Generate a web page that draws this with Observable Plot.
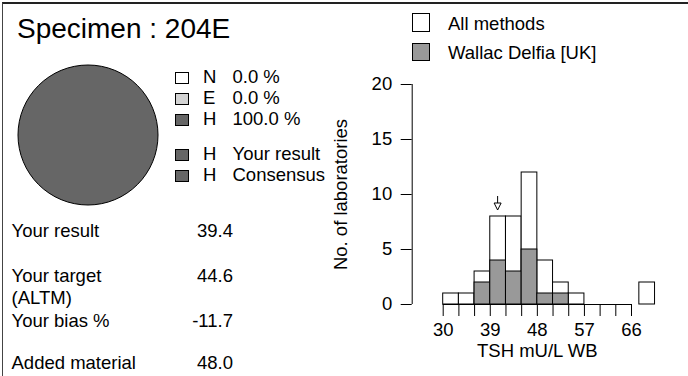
<!DOCTYPE html>
<html><head><meta charset="utf-8">
<script src="https://cdn.jsdelivr.net/npm/d3@7"></script>
<script src="https://cdn.jsdelivr.net/npm/@observablehq/plot@0.6"></script>
<style>
html,body{margin:0;padding:0;background:#fff;}
#root{position:relative;width:688px;height:376px;overflow:hidden;font-family:"Liberation Sans",Arial,Helvetica,sans-serif;color:#000;background:#fff;}
.t{position:absolute;white-space:nowrap;line-height:1;}
.sw{position:absolute;box-sizing:border-box;border:1px solid #000;}
.plotbox{position:absolute;}
</style></head><body><div id="root"></div>
<script>
// ---- data ----
const specimen = "204E";
const pieCategories = ["N", "E", "H"];
const piePercents = [0.0, 0.0, 100.0];
const pieColors = ["#ffffff", "#d3d3d3", "#666666"];
const yourResultClass = "H";
const consensusClass = "H";
const statLabels = [["Your result"], ["Your target", "(ALTM)"], ["Your bias %"], ["Added material"]];
const statValues = ["39.4", "44.6", "-11.7", "48.0"];
const binStarts = [30, 33, 36, 39, 42, 45, 48, 51, 54, 57, 60, 63];
const binWidth = 3;
const allMethodsCounts = [1, 1, 3, 8, 8, 12, 4, 2, 1, 0, 0, 0];
const methodCounts = [0, 0, 2, 4, 3, 5, 1, 1, 0, 0, 0, 0];
const aboveRangeBin = [67.5, 70.5];
const aboveRangeCount = 2;
const xTickLabels = [30, 39, 48, 57, 66];
const yTicks = [0, 5, 10, 15, 20];
const yourResult = 39.4;
const seriesNames = ["All methods", "Wallac Delfia [UK]"];
const seriesColors = ["#ffffff", "#999999"];
const xLabel = "TSH mU/L WB";
const yLabel = "No. of laboratories";

// ---- layout helpers ----
const FONT = '"Liberation Sans", Arial, Helvetica, sans-serif';
const FS = 18.5;
const root = document.getElementById("root");
function addText(str, x, baseline, size, align) {
  const d = document.createElement("div");
  d.className = "t";
  d.textContent = str;
  d.style.fontSize = size + "px";
  d.style.top = (baseline - 0.8465 * size) + "px";
  d.style.left = x + "px";
  if (align === "right") d.style.transform = "translateX(-100%)";
  root.appendChild(d);
}
function addSwatch(x, y, w, h, color) {
  const d = document.createElement("div");
  d.className = "sw";
  Object.assign(d.style, {left: x + "px", top: y + "px", width: w + "px", height: h + "px", background: color});
  root.appendChild(d);
}
function place(node, left, top) {
  const wrap = document.createElement("div");
  wrap.className = "plotbox";
  wrap.style.left = left + "px";
  wrap.style.top = top + "px";
  wrap.appendChild(node);
  root.appendChild(wrap);
}

// frame
const frame = document.createElement("div");
Object.assign(frame.style, {position: "absolute", left: "2px", top: "1.5px", width: "720px", height: "420px",
  borderTop: "2px solid #222", borderLeft: "1px solid #444"});
root.appendChild(frame);

// title
addText("Specimen : " + specimen, 17, 39, 28);

// pie chart
const pieData = pieCategories.map((c, i) => ({cat: c, value: piePercents[i], color: pieColors[i]}));
function pieMark(index, scales) {
  const cx = scales.x(0), cy = scales.y(0), r = scales.x(1) - scales.x(0);
  const arcs = d3.pie().sort(null).value(d => d.value)(pieData.filter(d => d.value > 0));
  const arc = d3.arc().innerRadius(0).outerRadius(r);
  const g = d3.create("svg:g").attr("transform", `translate(${cx},${cy})`);
  g.selectAll("path").data(arcs).join("path")
    .attr("d", arc).attr("fill", d => d.data.color).attr("stroke", "#000").attr("stroke-width", 1);
  return g.node();
}
const pie = Plot.plot({
  width: 144, height: 144, margin: 2,
  x: {domain: [-1, 1], axis: null}, y: {domain: [-1, 1], axis: null},
  style: {background: "transparent", overflow: "visible"},
  marks: [pieMark]
});
place(pie, 16, 63);

// pie legend
const legRows = [
  {color: pieColors[0], letter: pieCategories[0], text: piePercents[0].toFixed(1) + " %", base: 83.5},
  {color: pieColors[1], letter: pieCategories[1], text: piePercents[1].toFixed(1) + " %", base: 104.5},
  {color: pieColors[2], letter: pieCategories[2], text: piePercents[2].toFixed(1) + " %", base: 126},
  {color: pieColors[pieCategories.indexOf(yourResultClass)], letter: yourResultClass, text: "Your result", base: 161},
  {color: pieColors[pieCategories.indexOf(consensusClass)], letter: consensusClass, text: "Consensus", base: 182}
];
legRows.forEach(r => {
  addSwatch(175, r.base - 12, 14, 12, r.color);
  addText(r.letter, 203, r.base, FS);
  addText(r.text, 232.5, r.base, FS);
});

// stats
const statBases = [[238], [283, 305], [327.5], [370]];
statLabels.forEach((lines, i) => {
  lines.forEach((l, j) => addText(l, 11.5, statBases[i][j], FS));
  addText(statValues[i], 233, statBases[i][0], FS, "right");
});

// histogram legend
addSwatch(411.5, 13, 18.5, 18.5, seriesColors[0]);
addSwatch(411.5, 42.5, 18.5, 18.5, seriesColors[1]);
addText(seriesNames[0], 448, 30.5, FS);
addText(seriesNames[1], 448, 59.5, FS);

// histogram
const bins = binStarts.map((s, i) => ({x1: s, x2: s + binWidth, all: allMethodsCounts[i], m: methodCounts[i]}));
const edges = [...binStarts, binStarts[binStarts.length - 1] + binWidth];
const resultBin = bins.find(b => yourResult >= b.x1 && yourResult < b.x2);
function arrowMark(index, scales) {
  const x = scales.x((resultBin.x1 + resultBin.x2) / 2);
  const tip = scales.y(resultBin.all) - 6, len = 14, hh = 7, hw = 3.5;
  const g = d3.create("svg:g").attr("stroke", "#000").attr("stroke-width", 1);
  g.append("path").attr("fill", "none").attr("d", `M${x},${tip - len}V${tip - hh}`);
  g.append("path").attr("fill", "#fff").attr("d", `M${x - hw},${tip - hh}L${x},${tip}L${x + hw},${tip - hh}Z`);
  return g.node();
}
const hist = Plot.plot({
  width: 388, height: 316,
  marginLeft: 142.7, marginRight: 57, marginTop: 24, marginBottom: 72,
  style: {fontFamily: FONT, fontSize: FS + "px", background: "transparent", color: "#000", overflow: "visible"},
  x: {domain: [edges[0], edges[edges.length - 1]]},
  y: {domain: [yTicks[0], yTicks[yTicks.length - 1]]},
  marks: [
    Plot.rect(bins.filter(d => d.all > 0), {x1: "x1", x2: "x2", y1: 0, y2: "all", fill: seriesColors[0], stroke: "#000", strokeWidth: 1}),
    Plot.rect(bins.filter(d => d.m > 0), {x1: "x1", x2: "x2", y1: 0, y2: "m", fill: seriesColors[1], stroke: "#000", strokeWidth: 1}),
    Plot.rect([aboveRangeCount], {x1: aboveRangeBin[0], x2: aboveRangeBin[1], y1: 0, y2: d => d, fill: seriesColors[0], stroke: "#000", strokeWidth: 1}),
    Plot.ruleY([0], {x1: edges[0], x2: edges[edges.length - 1], stroke: "#000", strokeWidth: 1}),
    Plot.ruleX([edges[0]], {y1: yTicks[0], y2: yTicks[yTicks.length - 1], dx: -31, stroke: "#000", strokeWidth: 1}),
    Plot.axisY({ticks: yTicks, anchor: "left", tickSize: 11, tickPadding: 9, dx: -31, fontSize: FS, label: null, tickFormat: d => String(d)}),
    Plot.axisX({ticks: edges, anchor: "bottom", tickSize: 12, fill: "none", label: null, tickFormat: () => ""}),
    Plot.text(xTickLabels, {x: d => d, text: d => String(d), frameAnchor: "bottom", dy: 18, lineAnchor: "top", textAnchor: "middle", fontSize: FS}),
    Plot.text([xLabel], {frameAnchor: "bottom", dy: 52, lineAnchor: "bottom", textAnchor: "middle", fontSize: FS, text: d => d}),
    Plot.text([yLabel], {frameAnchor: "left", rotate: -90, dx: -96.5, lineAnchor: "bottom", textAnchor: "middle", fontSize: FS, text: d => d}),
    arrowMark
  ]
});
place(hist, 300, 60);
</script>
</body></html>
